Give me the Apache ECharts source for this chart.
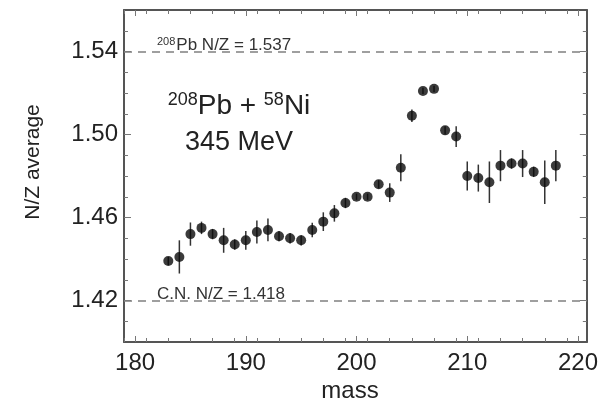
<!DOCTYPE html>
<html>
<head>
<meta charset="utf-8">
<script src="https://cdn.jsdelivr.net/npm/echarts@6/dist/echarts.min.js"></script>
<style>
  html, body { margin: 0; padding: 0; background: #fff; }
  #chart { width: 601px; height: 405px; }
</style>
</head>
<body>
<div id="chart"></div>
<script>
// masses of the measured fragments
var masses = [183, 184, 185, 186, 187, 188, 189, 190, 191, 192, 193, 194,
  195, 196, 197, 198, 199, 200, 201, 202, 203, 204, 205, 206, 207, 208,
  209, 210, 211, 212, 213, 214, 215, 216, 217, 218];
// N/Z average per mass
var nzAvg = [1.439, 1.441, 1.452, 1.455, 1.452, 1.449, 1.447, 1.449, 1.453,
  1.454, 1.451, 1.450, 1.449, 1.454, 1.458, 1.462, 1.467, 1.470, 1.470,
  1.476, 1.472, 1.484, 1.509, 1.521, 1.522, 1.502, 1.499, 1.480, 1.479,
  1.477, 1.485, 1.486, 1.486, 1.482, 1.477, 1.485];
// error bar half-heights
var nzErr = [0.002, 0.008, 0.0056, 0.003, 0.0025, 0.006, 0.0025, 0.0045,
  0.0055, 0.0055, 0.0025, 0.0025, 0.0025, 0.0035, 0.0045, 0.004, 0.0025,
  0.0015, 0.0015, 0.002, 0.0045, 0.0065, 0.003, 0.0015, 0.0015, 0.002,
  0.005, 0.007, 0.0065, 0.01, 0.0075, 0.0025, 0.0065, 0.0025, 0.0105, 0.0075];

var xTicks = [180, 190, 200, 210, 220];
var yTicks = [1.42, 1.46, 1.50, 1.54];
var pbNZ = 1.537;   // 208Pb N/Z
var cnNZ = 1.418;   // compound nucleus N/Z

var xMinor = [];
for (var m = 179; m <= 220; m += 2) xMinor.push(m);
var yMinor = [];
for (var k = 141; k <= 155; k++) {
  if ((k - 142) % 4 !== 0) yMinor.push(k / 100);
}

var font = "'Liberation Sans', Arial, Helvetica, sans-serif";
var frame = '#555';
var ink = '#222';

var pts = masses.map(function (m, i) { return [m, nzAvg[i]]; });
var bars = masses.map(function (m, i) { return [m, nzAvg[i], nzErr[i]]; });

function xAx(pos, ticks, len, labels, line) {
  return {
    type: 'value', position: pos, min: 179, max: 220.8,
    axisLine: { show: line, onZero: false, lineStyle: { color: frame, width: 2 } },
    axisTick: { show: true, inside: true, length: len, customValues: ticks,
      lineStyle: { color: '#777', width: 1 } },
    axisLabel: { show: labels, customValues: ticks, fontSize: 24, color: ink,
      fontFamily: font, margin: 9 },
    splitLine: { show: false }
  };
}
function yAx(pos, ticks, len, labels, line) {
  return {
    type: 'value', position: pos, min: 1.40, max: 1.56,
    axisLine: { show: line, onZero: false, lineStyle: { color: frame, width: 2 } },
    axisTick: { show: true, inside: true, length: len, customValues: ticks,
      lineStyle: { color: '#777', width: 1 } },
    axisLabel: { show: labels, customValues: ticks, fontSize: 24, color: ink,
      fontFamily: font, margin: 6,
      formatter: function (v) { return v.toFixed(2); } },
    splitLine: { show: false }
  };
}

var chart = echarts.init(document.getElementById('chart'));
chart.setOption({
  backgroundColor: '#fff',
  animation: false,
  grid: { left: 124, right: 8, top: 10, bottom: 63 },
  xAxis: [
    xAx('bottom', xTicks, 6, true, true),
    xAx('bottom', xMinor, 4, false, false),
    xAx('top', xTicks, 6, false, true),
    xAx('top', xMinor, 4, false, false)
  ],
  yAxis: [
    yAx('left', yTicks, 7, true, true),
    yAx('left', yMinor, 4, false, false),
    yAx('right', yTicks, 7, false, true),
    yAx('right', yMinor, 4, false, false)
  ],
  series: [
    {
      type: 'custom',
      data: bars,
      renderItem: function (params, api) {
        var x = api.value(0), y = api.value(1), e = api.value(2);
        var p1 = api.coord([x, y - e]);
        var p2 = api.coord([x, y + e]);
        return {
          type: 'line',
          shape: { x1: p1[0], y1: p1[1], x2: p2[0], y2: p2[1] },
          style: { stroke: '#333', lineWidth: 1.5 }
        };
      },
      z: 2
    },
    {
      type: 'scatter',
      data: pts,
      symbol: 'circle',
      symbolSize: 10,
      itemStyle: { color: '#0a0a0a' },
      z: 3,
      markLine: {
        silent: true,
        symbol: 'none',
        label: { show: false },
        lineStyle: { type: [8, 6], color: '#808080', width: 1.5 },
        data: [{ yAxis: pbNZ }, { yAxis: cnNZ }]
      }
    }
  ],
  graphic: [
    {
      type: 'text', x: 157, y: 45,
      style: {
        text: '{s|208}{n|Pb N/Z = 1.537}', verticalAlign: 'middle', fill: '#333',
        rich: {
          s: { fontSize: 11, fontFamily: font, verticalAlign: 'top', padding: [0, 1, 7, 0] },
          n: { fontSize: 17, fontFamily: font }
        }
      }
    },
    {
      type: 'text', x: 157, y: 294,
      style: {
        text: 'C.N. N/Z = 1.418', verticalAlign: 'middle', fill: '#333',
        fontSize: 17, fontFamily: font
      }
    },
    {
      type: 'text', x: 239, y: 106,
      style: {
        text: '{s|208}{n|Pb + }{s|58}{n|Ni}', align: 'center', verticalAlign: 'middle', fill: ink,
        rich: {
          s: { fontSize: 18, fontFamily: font, verticalAlign: 'top', padding: [0, 0, 12, 0] },
          n: { fontSize: 28, fontFamily: font }
        }
      }
    },
    {
      type: 'text', x: 239, y: 143,
      style: {
        text: '345 MeV', align: 'center', verticalAlign: 'middle', fill: ink,
        fontSize: 27, fontFamily: font
      }
    },
    {
      type: 'text', x: 33, y: 162, rotation: Math.PI / 2,
      style: {
        text: 'N/Z average', align: 'center', verticalAlign: 'middle', fill: ink,
        fontSize: 21, fontFamily: font
      }
    },
    {
      type: 'text', x: 350, y: 391,
      style: {
        text: 'mass', align: 'center', verticalAlign: 'middle', fill: ink,
        fontSize: 24, fontFamily: font
      }
    }
  ]
});
</script>
</body>
</html>
